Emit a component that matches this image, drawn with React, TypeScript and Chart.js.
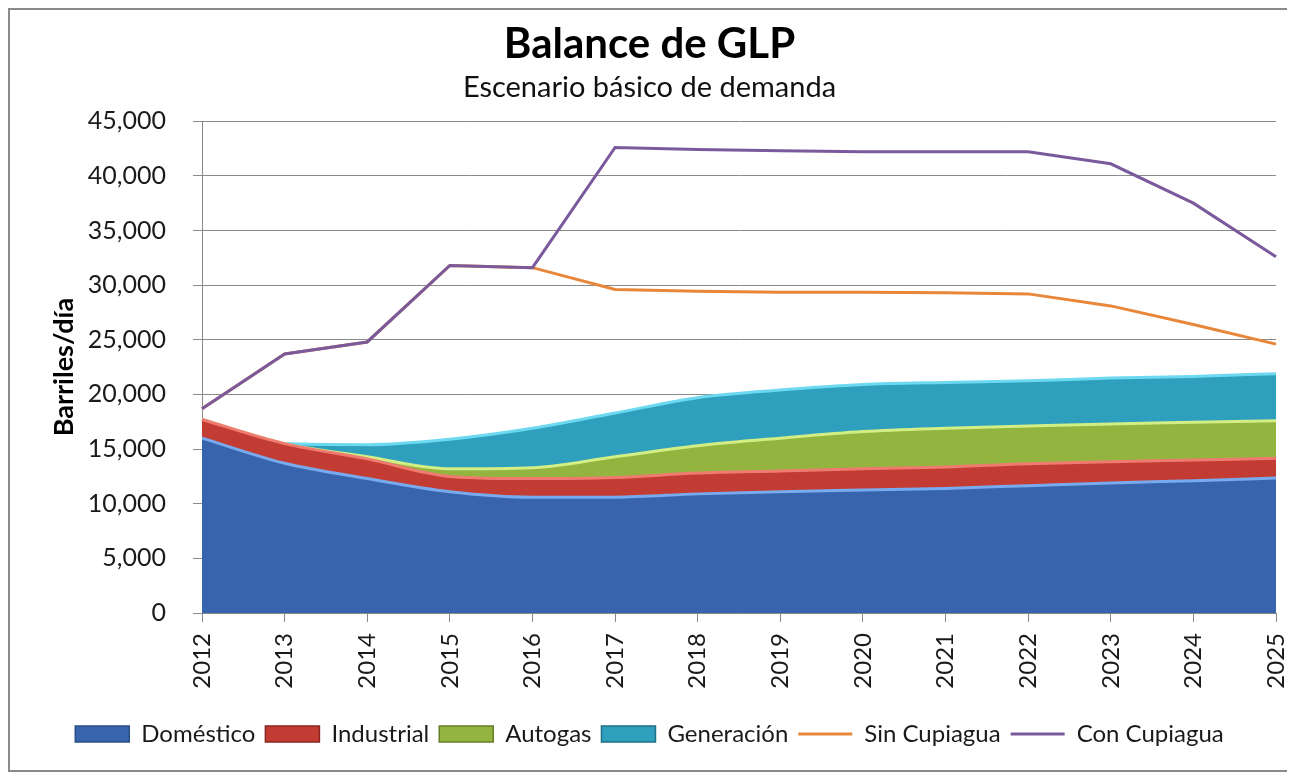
import React, { useEffect, useRef } from "react";
import { Chart, registerables } from "chart.js";

Chart.register(...registerables);

const years = ["2012", "2013", "2014", "2015", "2016", "2017", "2018", "2019", "2020", "2021", "2022", "2023", "2024", "2025"];
const domestico = [16000, 13700, 12300, 11100, 10600, 10600, 10900, 11100, 11250, 11400, 11650, 11900, 12100, 12350];
const industrial = [1700, 1800, 1800, 1400, 1700, 1800, 1900, 1900, 1950, 1950, 2000, 1950, 1900, 1800];
const autogas = [0, 0, 200, 700, 1000, 1900, 2500, 3000, 3400, 3550, 3450, 3450, 3450, 3450];
const generacion = [0, 0, 1100, 2700, 3600, 4000, 4400, 4400, 4300, 4200, 4150, 4200, 4200, 4300];
const sinCupiagua = [18700, 23700, 24800, 31800, 31600, 29600, 29450, 29350, 29350, 29300, 29200, 28100, 26400, 24600];
const conCupiagua = [18700, 23700, 24800, 31800, 31600, 42600, 42400, 42300, 42200, 42200, 42200, 41100, 37500, 32600];

const FONT = "Lato, 'Open Sans', sans-serif";

export default function App() {
  const ref = useRef<HTMLCanvasElement | null>(null);

  useEffect(() => {
    if (!ref.current) return;
    const area = (label: string, data: number[], bg: string, border: string, legendStroke: string, fill: any) => ({
      label,
      data,
      type: "line" as const,
      backgroundColor: bg,
      borderColor: border,
      borderWidth: 3,
      fill,
      stack: "demanda",
      order: 2,
      pointRadius: 0,
      pointStyle: "rect",
      tension: 0.25,
      cubicInterpolationMode: "monotone" as const,
      legendStroke,
    });
    const chart = new Chart(ref.current, {
      type: "line",
      data: {
        labels: years,
        datasets: [
          area("Doméstico", domestico, "#3764ad", "#78aaee", "#2a4f86", "origin"),
          area("Industrial", industrial, "#c23c33", "#ef7b70", "#8a2520", "-1"),
          area("Autogas", autogas, "#93b53f", "#d2ee84", "#667d2a", "-1"),
          area("Generación", generacion, "#2e9fbd", "#6cd9f0", "#1f6f85", "-1"),
          {
            label: "Sin Cupiagua",
            data: sinCupiagua,
            borderColor: "#e8873a",
            backgroundColor: "#e8873a",
            borderWidth: 3,
            fill: false,
            stack: "sin",
            order: 1,
            pointRadius: 0,
            pointStyle: "line",
            tension: 0,
          },
          {
            label: "Con Cupiagua",
            data: conCupiagua,
            borderColor: "#7a5a9c",
            backgroundColor: "#7a5a9c",
            borderWidth: 3,
            fill: false,
            stack: "con",
            order: 0,
            pointRadius: 0,
            pointStyle: "line",
            tension: 0,
          },
        ] as any,
      },
      options: {
        animation: false,
        responsive: false,
        maintainAspectRatio: false,
        layout: { padding: { left: 0, right: 0, top: 0, bottom: 14 } },
        plugins: {
          title: {
            display: true,
            text: "Balance de GLP",
            color: "#000",
            font: { family: FONT, size: 42, weight: "bold" },
            padding: { top: 9, bottom: 0 },
          },
          subtitle: {
            display: true,
            text: "Escenario básico de demanda",
            color: "#111",
            font: { family: FONT, size: 29 },
            padding: { top: 1, bottom: 16 },
          },
          legend: {
            position: "bottom",
            labels: {
              usePointStyle: true,
              pointStyleWidth: 54,
              boxHeight: 16,
              padding: 10,
              color: "#1a1a1a",
              font: { family: FONT, size: 24 },
              sort: (a: any, b: any) => a.datasetIndex - b.datasetIndex,
              generateLabels: (c: any) => {
                const items = Chart.defaults.plugins.legend.labels.generateLabels(c);
                return items.map((it: any) => {
                  const ds: any = c.data.datasets[it.datasetIndex];
                  if (ds.legendStroke) {
                    it.strokeStyle = ds.legendStroke;
                    it.lineWidth = 1.5;
                    it.fillStyle = ds.backgroundColor;
                  } else {
                    it.strokeStyle = ds.borderColor;
                    it.lineWidth = 3;
                  }
                  return it;
                });
              },
            },
          },
          tooltip: { enabled: false },
        },
        scales: {
          x: {
            offset: false,
            grid: { display: true, drawOnChartArea: false, tickLength: 9, color: "#888" },
            border: { display: true, color: "#888", width: 1 },
            ticks: {
              minRotation: 90,
              maxRotation: 90,
              padding: 11,
              color: "#1a1a1a",
              font: { family: FONT, size: 24 },
            },
            afterFit: (s: any) => {
              s.height = 99;
              s.paddingRight = 13;
              s.paddingLeft = 0;
            },
          },
          y: {
            stacked: true,
            min: 0,
            max: 45000,
            grid: { color: "#8a8a8a", lineWidth: 1, tickLength: 9 },
            border: { display: true, color: "#888", width: 1 },
            ticks: {
              stepSize: 5000,
              padding: 27,
              color: "#1a1a1a",
              font: { family: FONT, size: 25 },
              callback: (v: any) => Number(v).toLocaleString("en-US"),
            },
            title: {
              display: true,
              text: "Barriles/día",
              color: "#000",
              font: { family: FONT, size: 27, weight: "bold" },
              padding: { top: 38, bottom: 0 },
            },
            afterFit: (s: any) => {
              s.width = 192;
            },
          },
        },
      } as any,
    });
    return () => chart.destroy();
  }, []);

  return (
    <div
      style={{
        width: 1279,
        height: 760,
        border: "2px solid #8a8a8a",
        background: "#fff",
      }}
    >
      <canvas ref={ref} width={1279} height={760} style={{ display: "block", width: 1279, height: 760 }} />
    </div>
  );
}
